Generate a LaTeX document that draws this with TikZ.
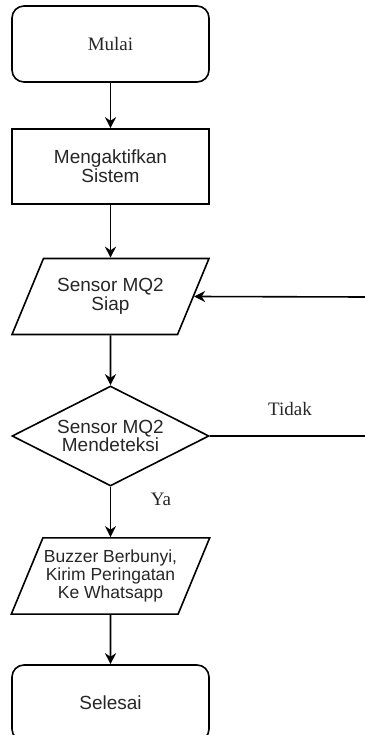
\documentclass[tikz,border=0pt]{standalone}
\usepackage{fontspec}
\setmainfont{Liberation Serif}
\setsansfont{Liberation Sans}
\usetikzlibrary{shapes.geometric,arrows.meta}
\begin{document}
\begin{tikzpicture}[x=1pt,y=-1pt,line width=1.6pt,
	terminal/.style={rectangle,rounded corners=12pt,draw,minimum width=197pt,minimum height=76pt,text=black!85},
	process/.style={rectangle,draw,minimum width=197pt,minimum height=75pt,align=center,text=black!85},
	io/.style={trapezium,trapezium left angle=67.5,trapezium right angle=112.5,trapezium stretches body=true,draw,minimum width=197pt,inner xsep=1pt,align=center,text=black!85},
	decision/.style={diamond,draw,shape aspect=2,minimum width=197pt,minimum height=100pt,inner sep=0pt,align=center,text=black!85},
	flow/.style={-{Stealth[length=11pt,width=11pt]}}]
	\useasboundingbox (0,0) rectangle (364,735);
	\fontsize{19}{17}\selectfont
	% Place nodes
	\node [terminal] (mulai) at (110.5,44) {Mulai};
	\node [process,font=\sffamily] (sistem) at (110.5,166.5) {Mengaktifkan\\Sistem};
	\node [io,font=\sffamily,inner ysep=20.2pt] (siap) at (110.5,296.5) {Sensor MQ2\\Siap};
	\node [decision,font=\sffamily] (deteksi) at (110.5,436) {Sensor MQ2\\Mendeteksi};
	\node [io,font=\sffamily\fontsize{17.5}{18.3}\selectfont,inner ysep=11.6pt] (buzzer) at (110.5,576) {Buzzer Berbunyi,\\Kirim Peringatan\\Ke Whatsapp};
	\node [terminal,font=\sffamily] (selesai) at (110.5,703) {Selesai};
	\node [text=black!85] (tidak) at (290,409) {Tidak};
	\node [text=black!85] (ya) at (161,499) {Ya};
	\coordinate (ujung1) at (366,436);
	\coordinate (ujung2) at (366,297);
	% Connect nodes
	\draw [flow] (mulai) -- (sistem);
	\draw [flow] (sistem) -- (siap);
	\draw [flow] (siap) -- (deteksi);
	\draw [flow] (deteksi) -- (buzzer);
	\draw [flow] (buzzer) -- (selesai);
	\draw [flow] (deteksi.east) -- (ujung1) -- (ujung2) -- (siap.east);
\end{tikzpicture}
\end{document}
